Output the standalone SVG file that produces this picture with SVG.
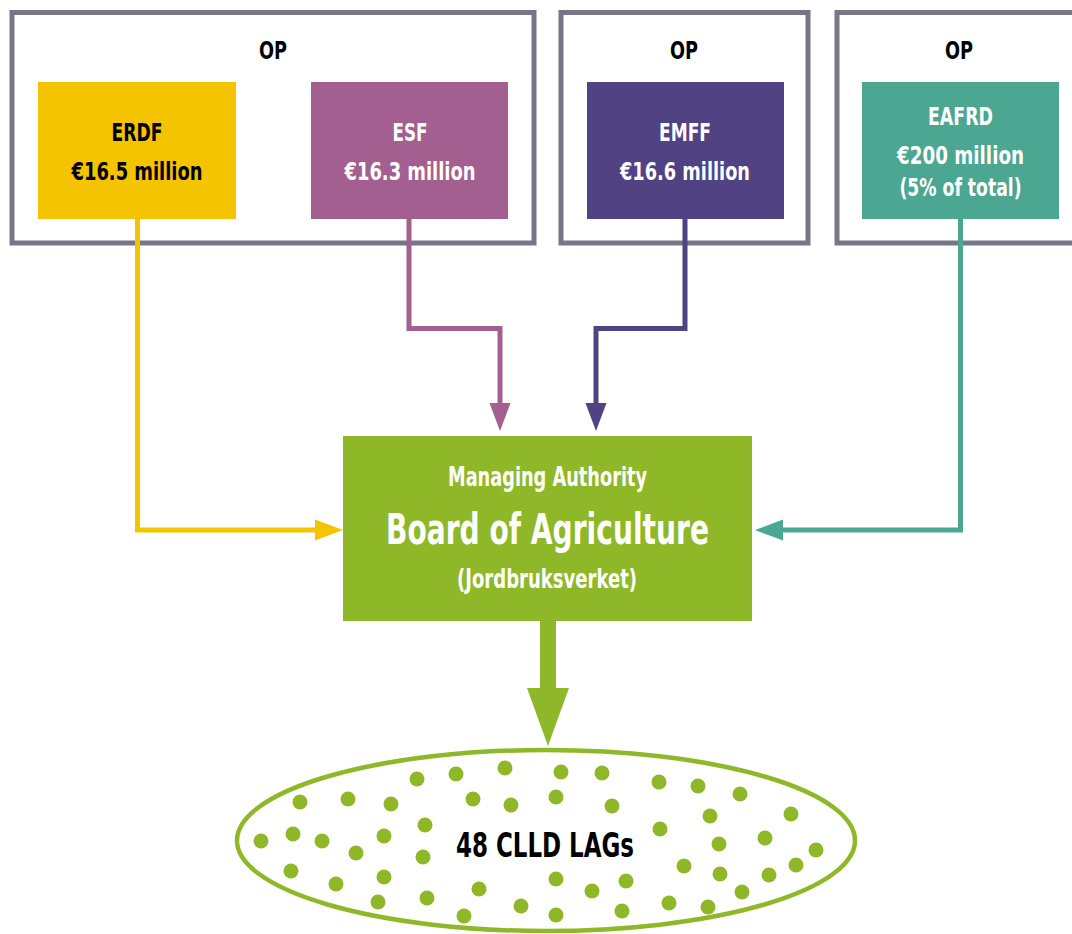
<svg xmlns="http://www.w3.org/2000/svg" width="1072" height="934" viewBox="0 0 1072 934">
<style>
text{font-family:"Liberation Sans Narrow","DejaVu Sans Condensed","Liberation Sans",sans-serif;font-weight:bold;text-anchor:middle}
.op{fill:none;stroke:#767689;stroke-width:5}
.dark{fill:#000}
.light{fill:#fff}
.c{fill:none;stroke-width:5}
.dot{fill:#8fb828}
</style>
<rect width="1072" height="934" fill="#fff"/>
<g id="op1"><rect class="op" x="12" y="12.5" width="522" height="230.5"/><text class="dark" x="273" y="59" font-size="24" textLength="28" lengthAdjust="spacingAndGlyphs">OP</text></g>
<g id="op2"><rect class="op" x="561" y="12.5" width="247" height="230.5"/><text class="dark" x="684" y="59" font-size="24" textLength="28" lengthAdjust="spacingAndGlyphs">OP</text></g>
<g id="op3"><rect class="op" x="837" y="12.5" width="260" height="230.5"/><text class="dark" x="959" y="59" font-size="24" textLength="28" lengthAdjust="spacingAndGlyphs">OP</text></g>
<g id="connectors">
<path class="c" stroke="#f4c400" d="M137.5 218V530H318"/>
<polygon fill="#f4c400" points="315,519.5 343,530 315,540.5"/>
<path class="c" stroke="#a25f90" d="M409 218V328.5H500V406"/>
<polygon fill="#a25f90" points="489.5,403 510.5,403 500,431"/>
<path class="c" stroke="#514283" d="M685 218V328.5H596V406"/>
<polygon fill="#514283" points="585.5,403 606.5,403 596,431"/>
<path class="c" stroke="#4ba791" d="M960.5 218V530H781"/>
<polygon fill="#4ba791" points="783,519.5 755,530 783,540.5"/>
<rect x="540" y="619" width="16" height="71" fill="#8fb828"/>
<polygon fill="#8fb828" points="527,688 569,688 548,746"/>
</g>
<g id="erdf"><rect x="38" y="82" width="198" height="137" fill="#f4c400"/>
<text class="dark" x="137" y="141" font-size="25" textLength="51" lengthAdjust="spacingAndGlyphs">ERDF</text>
<text class="dark" x="137" y="180" font-size="25" textLength="131" lengthAdjust="spacingAndGlyphs">€16.5 million</text></g>
<g id="esf"><rect x="311" y="82" width="197" height="137" fill="#a25f90"/>
<text class="light" x="410" y="141" font-size="25" textLength="35" lengthAdjust="spacingAndGlyphs">ESF</text>
<text class="light" x="410" y="180" font-size="25" textLength="131" lengthAdjust="spacingAndGlyphs">€16.3 million</text></g>
<g id="emff"><rect x="587" y="82" width="197" height="137" fill="#514283"/>
<text class="light" x="685" y="141" font-size="25" textLength="52" lengthAdjust="spacingAndGlyphs">EMFF</text>
<text class="light" x="685" y="180" font-size="25" textLength="130" lengthAdjust="spacingAndGlyphs">€16.6 million</text></g>
<g id="eafrd"><rect x="862" y="82" width="197" height="137" fill="#4ba791"/>
<text class="light" x="960.5" y="125" font-size="25" textLength="65" lengthAdjust="spacingAndGlyphs">EAFRD</text>
<text class="light" x="960.5" y="164" font-size="25" textLength="127" lengthAdjust="spacingAndGlyphs">€200 million</text>
<text class="light" x="960.5" y="196" font-size="25" textLength="122" lengthAdjust="spacingAndGlyphs">(5% of total)</text></g>
<g id="ma"><rect x="343" y="436" width="409" height="185" fill="#8fb828"/>
<text class="light" x="547.5" y="486" font-size="26" textLength="199" lengthAdjust="spacingAndGlyphs">Managing Authority</text>
<text class="light" x="547.5" y="544" font-size="43" textLength="323" lengthAdjust="spacingAndGlyphs">Board of Agriculture</text>
<text class="light" x="547" y="588" font-size="26" textLength="180" lengthAdjust="spacingAndGlyphs">(Jordbruksverket)</text></g>
<g id="lags">
<ellipse cx="546" cy="840.5" rx="309" ry="90.5" fill="none" stroke="#8fb828" stroke-width="4.5"/>
<g class="dot">
<circle cx="300" cy="802" r="7.5"/><circle cx="348" cy="799" r="7.5"/><circle cx="391" cy="804" r="7.5"/><circle cx="417" cy="779" r="7.5"/><circle cx="456" cy="774" r="7.5"/><circle cx="505" cy="768" r="7.5"/><circle cx="561" cy="772" r="7.5"/><circle cx="602" cy="773" r="7.5"/><circle cx="659" cy="782" r="7.5"/><circle cx="698" cy="786" r="7.5"/><circle cx="740" cy="794" r="7.5"/><circle cx="473" cy="799" r="7.5"/><circle cx="511" cy="805" r="7.5"/><circle cx="556" cy="797" r="7.5"/><circle cx="612" cy="806" r="7.5"/><circle cx="710" cy="816" r="7.5"/><circle cx="791" cy="814" r="7.5"/><circle cx="425" cy="825" r="7.5"/><circle cx="660" cy="829" r="7.5"/><circle cx="261" cy="841" r="7.5"/><circle cx="293" cy="834" r="7.5"/><circle cx="322" cy="841" r="7.5"/><circle cx="384" cy="836" r="7.5"/><circle cx="356" cy="853" r="7.5"/><circle cx="423" cy="857" r="7.5"/><circle cx="719" cy="844" r="7.5"/><circle cx="765" cy="838" r="7.5"/><circle cx="816" cy="850" r="7.5"/><circle cx="796" cy="865" r="7.5"/><circle cx="684" cy="866" r="7.5"/><circle cx="720" cy="874" r="7.5"/><circle cx="769" cy="875" r="7.5"/><circle cx="742" cy="892" r="7.5"/><circle cx="291" cy="871" r="7.5"/><circle cx="336" cy="884" r="7.5"/><circle cx="384" cy="877" r="7.5"/><circle cx="378" cy="902" r="7.5"/><circle cx="427" cy="898" r="7.5"/><circle cx="479" cy="889" r="7.5"/><circle cx="464" cy="916" r="7.5"/><circle cx="521" cy="906" r="7.5"/><circle cx="556" cy="879" r="7.5"/><circle cx="592" cy="891" r="7.5"/><circle cx="626" cy="881" r="7.5"/><circle cx="556" cy="915" r="7.5"/><circle cx="622" cy="911" r="7.5"/><circle cx="669" cy="903" r="7.5"/><circle cx="708" cy="907" r="7.5"/>
</g>
<text class="dark" x="545" y="857" font-size="34" textLength="178" lengthAdjust="spacingAndGlyphs">48 CLLD LAGs</text>
</g>
</svg>
